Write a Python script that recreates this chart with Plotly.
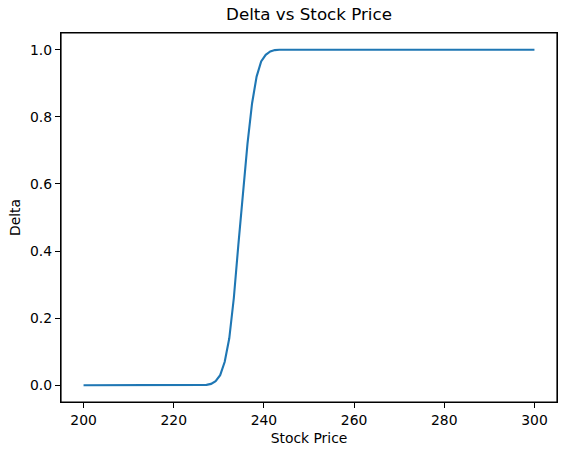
import plotly.graph_objects as go

# stock price grid (flat ends only need their endpoints)
stock_price = [200.0, 225.25, 226.26, 227.27, 228.28, 229.29, 230.30, 231.31,
               232.32, 233.33, 234.34, 235.35, 236.36, 237.37, 238.38, 239.39,
               240.40, 241.41, 242.42, 243.43, 244.44, 300.0]
delta = [0.0, 0.0, 0.0005, 0.001, 0.004, 0.012, 0.03, 0.07,
         0.14, 0.26, 0.42, 0.58, 0.72, 0.84, 0.92, 0.965,
         0.985, 0.995, 0.999, 1.0, 1.0, 1.0]

x_ticks = [200, 220, 240, 260, 280, 300]
y_ticks = [0.0, 0.2, 0.4, 0.6, 0.8, 1.0]

FONT = "DejaVu Sans"

fig = go.Figure(
    go.Scatter(
        x=stock_price,
        y=delta,
        mode="lines",
        line={"color": "#1f77b4", "width": 2.1},
        hoverinfo="skip",
    )
)

axis_style = {
    "showgrid": False,
    "zeroline": False,
    "showline": True,
    "linecolor": "black",
    "linewidth": 1.2,
    "mirror": True,
    "ticks": "outside",
    "ticklen": 5,
    "tickwidth": 1.1,
    "tickcolor": "black",
    "tickfont": {"family": FONT, "size": 13.9, "color": "black"},
    "automargin": False,
}

fig.update_xaxes(
    **axis_style,
    range=[195, 305],
    tickvals=x_ticks,
    ticktext=[str(t) for t in x_ticks],
    title={"text": "Stock Price", "font": {"family": FONT, "size": 13.9, "color": "black"}, "standoff": 6},
)
fig.update_yaxes(
    **axis_style,
    range=[-0.05, 1.05],
    tickvals=y_ticks,
    ticktext=[f"{t:.1f}" for t in y_ticks],
    title={"text": "Delta", "font": {"family": FONT, "size": 13.9, "color": "black"}, "standoff": 6},
)

# axes frame, like matplotlib spines
fig.add_shape(
    type="rect",
    xref="paper", yref="paper",
    x0=0, y0=0, x1=1, y1=1,
    line={"color": "black", "width": 1.2},
    layer="above",
)

fig.update_layout(
    width=567,
    height=455,
    margin={"l": 61, "r": 10, "t": 33, "b": 53},
    paper_bgcolor="white",
    plot_bgcolor="white",
    showlegend=False,
    title={
        "text": "Delta vs Stock Price",
        "x": 309 / 567,
        "xanchor": "center",
        "y": 1 - 14 / 455,
        "yanchor": "middle",
        "yref": "container",
        "font": {"family": FONT, "size": 16.7, "color": "black"},
    },
)

# drop the browser's default page margin so the figure sits at the window corner
fig.write_html(
    "out.html",
    config={"displayModeBar": False},
    post_script="document.body.style.margin = '0';",
)
